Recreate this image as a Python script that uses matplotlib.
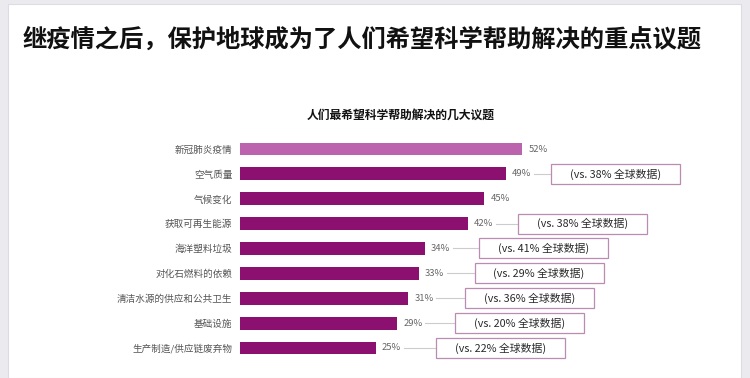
import matplotlib
matplotlib.use("Agg")
import matplotlib.pyplot as plt
from matplotlib.patches import Rectangle

plt.rcParams['font.family'] = ['Noto Sans CJK SC', 'DejaVu Sans']

title = "继疫情之后，保护地球成为了人们希望科学帮助解决的重点议题"
subtitle = "人们最希望科学帮助解决的几大议题"
categories = ["新冠肺炎疫情", "空气质量", "气候变化", "获取可再生能源", "海洋塑料垃圾",
              "对化石燃料的依赖", "清洁水源的供应和公共卫生", "基础设施", "生产制造/供应链废弃物"]
values = [52, 49, 45, 42, 34, 33, 31, 29, 25]
global_values = [None, 38, None, 38, 41, 29, 36, 20, 22]

W, H = 750, 378
fig = plt.figure(figsize=(W / 100, H / 100), dpi=100)
fig.patch.set_facecolor("#ebebef")
fig.add_artist(Rectangle((8 / W, 0), 733 / W, 1 - 4 / H, transform=fig.transFigure,
                         facecolor="white", edgecolor="#dcdce4", lw=0.8, zorder=0))

fig.text(23 / W, 1 - 40 / H, title, fontsize=17.5, fontweight="black", color="#111111",
         ha="left", va="center")
fig.text(401 / W, 1 - 115 / H, subtitle, fontsize=8.5, fontweight="bold", color="#111111",
         ha="center", va="center")

ax_left, ax_right = 240, 740
top_px, bot_px = 136.6, 360.4
ax = fig.add_axes([ax_left / W, 1 - bot_px / H, (ax_right - ax_left) / W, (bot_px - top_px) / H])
ax.set_facecolor("none")
px_per_unit = 5.43
xmax = (ax_right - ax_left) / px_per_unit
ax.set_xlim(0, xmax)
n = len(categories)
ax.set_ylim(n - 0.5, -0.5)
row_px = (bot_px - top_px) / n

colors = ["#bb63ad"] + ["#8c1070"] * (n - 1)
ax.barh(range(n), values, height=0.52, color=colors, zorder=2)

for i, (v, g) in enumerate(zip(values, global_values)):
    ax.text(v + 6 / px_per_unit, i, f"{v}%", fontsize=6.8, color="#666666",
            ha="left", va="center")
    if g is not None:
        gap = 45 + (49 - v) * 0.65
        bx = v + gap / px_per_unit
        bw = 129 / px_per_unit
        bh = 20 / row_px
        ax.plot([v + 28 / px_per_unit, bx], [i, i], color="#cccccc", lw=0.8, zorder=1)
        ax.add_patch(Rectangle((bx, i - bh / 2), bw, bh, facecolor="white",
                               edgecolor="#b98db3", lw=0.9, zorder=3, clip_on=False))
        ax.text(bx + bw / 2, i, f"(vs. {g}% 全球数据)", fontsize=7.8, color="#2a2a2a",
                ha="center", va="center", zorder=4)

ax.set_yticks(range(n))
ax.set_yticklabels(categories, fontsize=6.9, color="#555555")
ax.tick_params(axis="y", length=0, pad=5.5)
ax.set_xticks([])
for s in ax.spines.values():
    s.set_visible(False)

fig.savefig("out.png", dpi=100, facecolor=fig.get_facecolor())
